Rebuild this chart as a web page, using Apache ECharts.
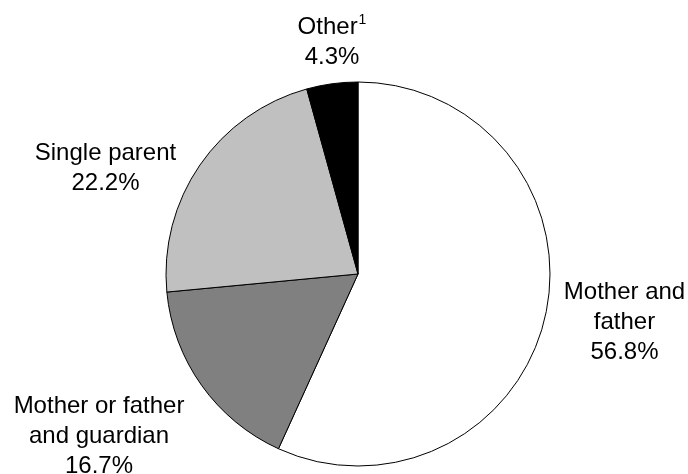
<!DOCTYPE html>
<html>
<head>
<meta charset="utf-8">
<script src="https://cdn.jsdelivr.net/npm/echarts@6/dist/echarts.min.js"></script>
<style>
html,body{margin:0;padding:0;background:#fff;}
#c{width:688px;height:474px;}
</style>
</head>
<body>
<div id="c"></div>
<script>
var categories = ['Mother and father', 'Mother or father and guardian', 'Single parent', 'Other'];
var labelTexts = ['Mother and\nfather', 'Mother or father\nand guardian', 'Single parent', 'Other'];
var superscripts = ['', '', '', '1'];
var values = [56.8, 16.7, 22.2, 4.3];
var colors = ['#ffffff', '#808080', '#c0c0c0', '#000000'];

var labelPos = [[624.5, 322], [99, 436], [105.5, 168], [332, 42]];

var chart = echarts.init(document.getElementById('c'), null, {renderer: 'canvas'});
var data = categories.map(function (c, i) {
  return {name: c, value: values[i], itemStyle: {color: colors[i]}};
});
chart.setOption({
  animation: false,
  backgroundColor: '#ffffff',
  series: [{
    type: 'pie',
    center: [358, 274],
    radius: 192,
    startAngle: 90,
    clockwise: true,
    data: data,
    itemStyle: {borderColor: '#000000', borderWidth: 1},
    emphasis: {disabled: true},
    labelLine: {show: false},
    label: {
      show: true,
      position: 'outside',
      overflow: 'none',
      width: 300,
      formatter: function (p) {
        var i = p.dataIndex;
        var lines = labelTexts[i].split('\n').map(function (t, k, arr) {
          var s = '{n|' + t + '}';
          if (k === arr.length - 1 && superscripts[i]) s += '{s|' + superscripts[i] + '}';
          return s;
        });
        lines.push('{n|' + values[i].toFixed(1) + '%}');
        return lines.join('\n');
      },
      rich: {
        n: {fontFamily: 'Liberation Sans, Arial, sans-serif', fontSize: 24, lineHeight: 30, color: '#000', align: 'center'},
        s: {fontFamily: 'Liberation Sans, Arial, sans-serif', fontSize: 14, lineHeight: 30, color: '#000', padding: [0, 0, 14, 1]}
      }
    },
    labelLayout: function (p) {
      var pos = labelPos[p.dataIndex];
      return {x: pos[0], y: pos[1], align: 'center', verticalAlign: 'middle'};
    }
  }]
});
</script>
</body>
</html>
